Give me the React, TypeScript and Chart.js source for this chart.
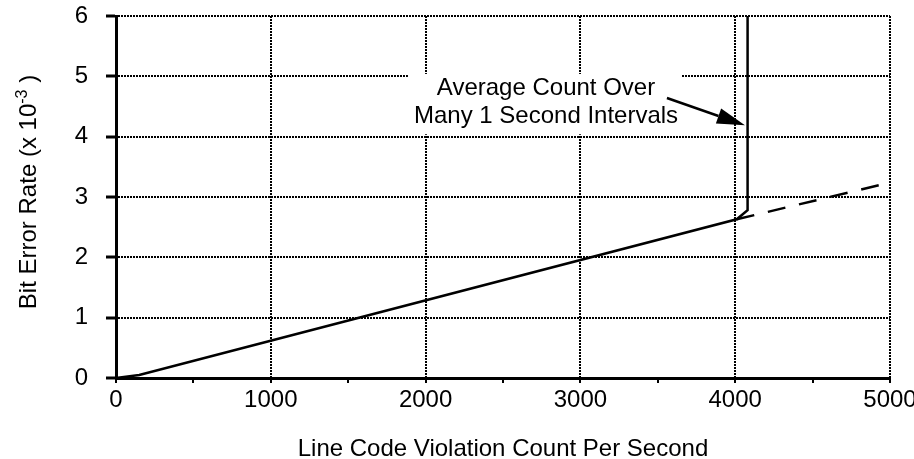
import React, { useEffect, useRef } from "react";
import { Chart, registerables } from "chart.js";

Chart.register(...registerables);

// ---- data ----
const measuredX = [0, 150, 4010, 4080, 4080];
const measuredY = [0, 0.05, 2.63, 2.78, 6];
const extrapX = [4010, 5000];
const extrapY = [2.63, 3.24];

const xMin = 0;
const xMax = 5000;
const xStep = 500; // minor tick marks
const xLabelStep = 1000;
const yMin = 0;
const yMax = 6;
const yStep = 1;

const xTitle = "Line Code Violation Count Per Second";
const yTitleMain = "Bit Error Rate (x 10";
const yTitleSup = "-3";
const yTitleEnd = " )";

const annotationLines = ["Average Count Over", "Many 1 Second Intervals"];
// annotation placement in data units
const annBoxX = [1886, 3656];
const annBoxY = [4.04, 5.04];
const annTextX = 2778;
const annTextY = [4.8, 4.33];
const annArrowFrom = [3559, 4.64];
const annArrowTo = [4063, 4.19];

const FONT = "'Liberation Sans', Arial, Helvetica, sans-serif";
const FS = 24;

const toPts = (xs: number[], ys: number[]) => xs.map((x, i) => ({ x, y: ys[i] }));

const overlayPlugin = {
  id: "overlay",
  afterDatasetsDraw(chart: any) {
    const { ctx, scales } = chart;
    const x = scales.x;
    const y = scales.y;
    ctx.save();
    // white box behind annotation text
    const bx0 = x.getPixelForValue(annBoxX[0]);
    const bx1 = x.getPixelForValue(annBoxX[1]);
    const by0 = y.getPixelForValue(annBoxY[1]);
    const by1 = y.getPixelForValue(annBoxY[0]);
    ctx.fillStyle = "#fff";
    ctx.fillRect(bx0, by0, bx1 - bx0, by1 - by0);

    ctx.fillStyle = "#000";
    ctx.font = `${FS}px ${FONT}`;
    ctx.textAlign = "center";
    ctx.textBaseline = "middle";
    annotationLines.forEach((t, i) => {
      ctx.fillText(t, x.getPixelForValue(annTextX), y.getPixelForValue(annTextY[i]));
    });

    // arrow
    const ax0 = x.getPixelForValue(annArrowFrom[0]);
    const ay0 = y.getPixelForValue(annArrowFrom[1]);
    const ax1 = x.getPixelForValue(annArrowTo[0]);
    const ay1 = y.getPixelForValue(annArrowTo[1]);
    const ang = Math.atan2(ay1 - ay0, ax1 - ax0);
    const headLen = 28;
    const headHalf = 8;
    const bxh = ax1 - headLen * Math.cos(ang);
    const byh = ay1 - headLen * Math.sin(ang);
    ctx.strokeStyle = "#000";
    ctx.lineWidth = 2.5;
    ctx.beginPath();
    ctx.moveTo(ax0, ay0);
    ctx.lineTo(bxh, byh);
    ctx.stroke();
    ctx.beginPath();
    ctx.moveTo(ax1, ay1);
    ctx.lineTo(bxh + headHalf * Math.sin(ang), byh - headHalf * Math.cos(ang));
    ctx.lineTo(bxh - headHalf * Math.sin(ang), byh + headHalf * Math.cos(ang));
    ctx.closePath();
    ctx.fill();

    // x title
    ctx.font = `${FS}px ${FONT}`;
    ctx.textAlign = "center";
    ctx.textBaseline = "middle";
    ctx.fillText(xTitle, (x.left + x.right) / 2, 449);

    // y title with superscript
    ctx.translate(28, 192);
    ctx.rotate(-Math.PI / 2);
    ctx.textAlign = "left";
    ctx.textBaseline = "alphabetic";
    const mainFont = `${FS}px ${FONT}`;
    const supFont = `16px ${FONT}`;
    ctx.font = mainFont;
    const w1 = ctx.measureText(yTitleMain).width;
    ctx.font = supFont;
    const w2 = ctx.measureText(yTitleSup).width;
    ctx.font = mainFont;
    const w3 = ctx.measureText(yTitleEnd).width;
    const total = w1 + w2 + w3;
    let cx = -total / 2;
    const base = 8;
    ctx.font = mainFont;
    ctx.fillText(yTitleMain, cx, base);
    cx += w1;
    ctx.font = supFont;
    ctx.fillText(yTitleSup, cx, base - 9);
    cx += w2;
    ctx.font = mainFont;
    ctx.fillText(yTitleEnd, cx, base);
    ctx.restore();
  },
};

export default function App() {
  const ref = useRef<HTMLCanvasElement | null>(null);
  useEffect(() => {
    if (!ref.current) return;
    const chart = new Chart(ref.current, {
      type: "scatter",
      data: {
        datasets: [
          {
            data: toPts(measuredX, measuredY),
            showLine: true,
            borderColor: "#000",
            borderWidth: 2.5,
            pointRadius: 0,
            fill: false,
          },
          {
            data: toPts(extrapX, extrapY),
            showLine: true,
            borderColor: "#000",
            borderWidth: 2.5,
            borderDash: [18, 14],
            pointRadius: 0,
            fill: false,
          },
        ],
      },
      options: {
        responsive: false,
        animation: false,
        events: [],
        layout: { padding: { top: 16, right: 24, left: 0, bottom: 0 } },
        plugins: {
          legend: { display: false },
          tooltip: { enabled: false },
          title: { display: false },
        },
        scales: {
          x: {
            type: "linear",
            min: xMin,
            max: xMax,
            afterFit: (s: any) => {
              s.height = 81;
              s.paddingLeft = 0;
              s.paddingRight = 0;
            },
            ticks: {
              stepSize: xStep,
              autoSkip: false,
              maxRotation: 0,
              color: "#000",
              padding: 3,
              font: { family: FONT, size: FS },
              callback: (v: any) => (Number(v) % xLabelStep === 0 ? String(v) : ""),
            },
            grid: {
              color: (c: any) =>
                c.tick && c.tick.value % xLabelStep === 0 ? "#000" : "rgba(0,0,0,0)",
              lineWidth: 2,
              tickColor: "#000",
              tickLength: 5,
              tickWidth: 2,
              tickBorderDash: [],
            },
            border: { display: true, color: "#000", width: 3, dash: [2, 1] },
          },
          y: {
            type: "linear",
            min: yMin,
            max: yMax,
            afterFit: (s: any) => {
              s.width = 116;
              s.paddingTop = 0;
              s.paddingBottom = 0;
            },
            ticks: {
              stepSize: yStep,
              color: "#000",
              padding: 18,
              font: { family: FONT, size: FS },
            },
            grid: {
              color: "#000",
              lineWidth: 2,
              tickColor: "#000",
              tickLength: 10,
              tickWidth: 3,
              tickBorderDash: [],
            },
            border: { display: true, color: "#000", width: 3, dash: [2, 1] },
          },
        },
      },
      plugins: [overlayPlugin],
    });
    return () => chart.destroy();
  }, []);

  return (
    <div style={{ position: "absolute", left: 0, top: 0, width: 914, height: 459, background: "#fff" }}>
      <canvas ref={ref} width={914} height={459} />
    </div>
  );
}
